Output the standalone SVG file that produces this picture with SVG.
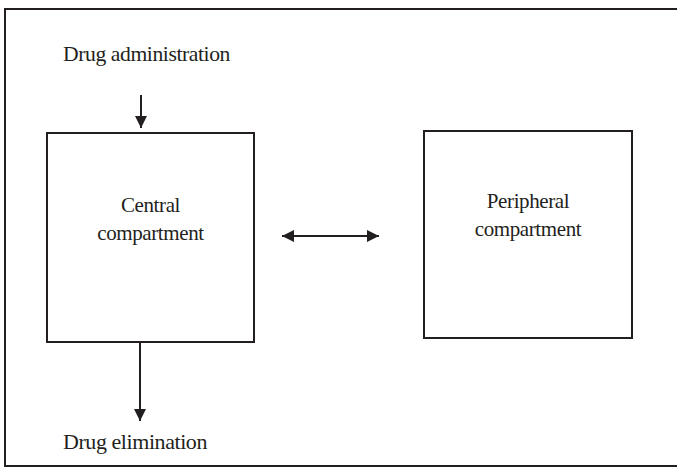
<svg xmlns="http://www.w3.org/2000/svg" width="677" height="469" viewBox="0 0 677 469">
<style>
.box{fill:#fff;stroke:#231f20;stroke-width:2}
.lbl{font-family:"Liberation Serif","Times New Roman",serif;font-size:21px;letter-spacing:-0.4px;fill:#231f20;text-anchor:middle}
.ln{stroke:#231f20;stroke-width:2;fill:none}
</style>
<defs>
<marker id="ah" viewBox="0 0 10 10" refX="10" refY="5" markerWidth="12" markerHeight="13" markerUnits="userSpaceOnUse" orient="auto-start-reverse">
<path d="M0,0 L10,5 L0,10 Z" fill="#231f20"/>
</marker>
</defs>
<rect x="0" y="0" width="677" height="469" fill="#fff"/>
<rect id="frame" x="5" y="9" width="680" height="457" fill="none" stroke="#231f20" stroke-width="2"/>
<g id="central">
<rect class="box" x="47" y="133" width="207" height="209"/>
<text class="lbl" x="150.5" y="212">Central</text>
<text class="lbl" x="150.5" y="240">compartment</text>
</g>
<g id="peripheral">
<rect class="box" x="424" y="131" width="208" height="207"/>
<text class="lbl" x="528" y="208">Peripheral</text>
<text class="lbl" x="528" y="236">compartment</text>
</g>
<g id="administration">
<text class="lbl" x="146.5" y="61" textLength="167" lengthAdjust="spacingAndGlyphs">Drug administration</text>
</g>
<g id="elimination">
<text class="lbl" x="135" y="449" textLength="144" lengthAdjust="spacingAndGlyphs">Drug elimination</text>
</g>
<g id="connectors">
<line class="ln" x1="141" y1="95" x2="141" y2="128" marker-end="url(#ah)"/>
<line class="ln" x1="140" y1="342" x2="140" y2="421" marker-end="url(#ah)"/>
<line class="ln" x1="282" y1="236" x2="379" y2="236" marker-start="url(#ah)" marker-end="url(#ah)"/>
</g>
</svg>
